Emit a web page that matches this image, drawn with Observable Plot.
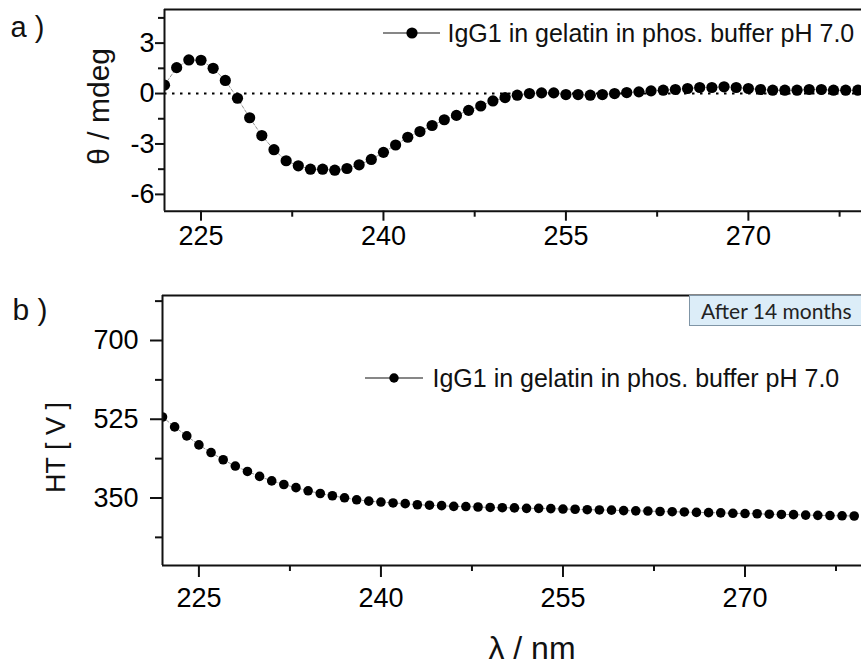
<!DOCTYPE html>
<html><head><meta charset="utf-8">
<script src="https://cdn.jsdelivr.net/npm/d3@7"></script>
<script src="https://cdn.jsdelivr.net/npm/@observablehq/plot@0.6"></script>
<style>
body{margin:0;background:#fff;}
#wrap{position:relative;width:861px;height:666px;overflow:hidden;font-family:"Liberation Sans",Arial,sans-serif;background:#fff;}
#wrap svg{position:absolute;left:0;overflow:visible;}
#wrap g[aria-label="x-axis tick label"], #wrap g[aria-label="y-axis tick label"]{font-size:27px;fill:#000;}
#badge{position:absolute;left:689px;top:295px;width:200px;height:31px;background:#dcedf8;border:1px solid #7f95a6;box-sizing:border-box;font-family:Lato,"Open Sans",sans-serif;font-size:21px;line-height:29px;padding-left:11px;color:#222;white-space:nowrap;}
</style>
</head><body>
<div id="wrap"></div>
<script>
// ---- data ----
const wavelength = [222,223,224,225,226,227,228,229,230,231,232,233,234,235,236,237,238,239,240,241,242,243,244,245,246,247,248,249,250,251,252,253,254,255,256,257,258,259,260,261,262,263,264,265,266,267,268,269,270,271,272,273,274,275,276,277,278,279];
const cdValues = [0.5,1.54,2.0,1.98,1.5,0.78,-0.28,-1.44,-2.5,-3.34,-4.0,-4.3,-4.5,-4.5,-4.56,-4.46,-4.24,-3.92,-3.5,-3.06,-2.6,-2.26,-1.9,-1.56,-1.3,-1.0,-0.74,-0.44,-0.24,-0.1,0,0.04,0.04,-0.06,-0.06,-0.1,-0.06,0,0.06,0.1,0.16,0.2,0.24,0.3,0.36,0.36,0.4,0.36,0.3,0.24,0.2,0.2,0.2,0.24,0.24,0.2,0.2,0.2];
const htValues = [530,508,488,468,451,435,421,409,398,388,380,373,366,360,355,350.5,346,343,341,339,337.5,335,334,333,331.5,331,330,329,328.5,328,327,327,326.5,325.5,325,324,323.5,323,322,321.5,321,320,319.5,319,318,317.5,317,316,315.5,315,314,313.5,313,312,311.5,311,310.5,310];
const xTicks = [225,240,255,270];
const xMinorTicks = [232.5,247.5,262.5,277.5];
const cdTicks = [-6,-3,0,3];
const cdMinorTicks = [-4.5,-1.5,1.5,4.5];
const htTicks = [350,525,700];
const htMinorTicks = [262.5,437.5,612.5,787.5];
const zeroLine = [0];
const cdDomain = [-7,5];
const htDomain = [200,800];
const xDomainA = [222,279.3];
const xDomainB = [222,279.6];
const seriesLabel = "IgG1 in gelatin in phos. buffer pH 7.0";
const panelA = "a )", panelB = "b )";
const cdTitle = "θ / mdeg", htTitle = "HT [ V ]", xTitle = "λ / nm";
const badgeText = "After 14 months";

const cd = wavelength.map((w,i)=>({w, v: cdValues[i]}));
const ht = wavelength.map((w,i)=>({w, v: htValues[i]}));

const font = "'Liberation Sans', Arial, sans-serif";
const style = {fontFamily: font, fontSize: "27px", color: "#000", background: "transparent", overflow: "visible"};
const ink = "#111";
const fmt = d => String(d);

function frameRules(xd, yd) {
  return [
    Plot.ruleY([yd[1]], {stroke: ink, strokeWidth: 2}),
    Plot.ruleY([yd[0]], {stroke: ink, strokeWidth: 2}),
    Plot.ruleX([xd[0]], {stroke: ink, strokeWidth: 2})
  ];
}

// ---- panel a ----
const A = Plot.plot({
  width: 861, height: 262,
  marginTop: 9, marginBottom: 51.3, marginLeft: 164, marginRight: 0,
  style,
  x: {domain: xDomainA},
  y: {domain: cdDomain},
  marks: [
    Plot.ruleY(zeroLine, {stroke: "#000", strokeWidth: 2, strokeDasharray: "2.5,5.5"}),
    Plot.line(cd, {x: "w", y: "v", stroke: "#777", strokeWidth: 0.8, strokeDasharray: "3,2", clip: true}),
    Plot.dot(cd, {x: "w", y: "v", r: 5.6, fill: "#000", stroke: "none", clip: true}),
    ...frameRules(xDomainA, cdDomain),
    Plot.axisX(xTicks, {tickSize: 10, tickPadding: 5, fontSize: 27, tickFormat: fmt, label: null, strokeWidth: 2, stroke: ink, fill: "#000"}),
    Plot.axisX(xMinorTicks, {tickSize: 6, tickFormat: () => "", label: null, strokeWidth: 2, stroke: ink}),
    Plot.axisY(cdTicks, {tickSize: 9, tickPadding: 1, fontSize: 27, tickFormat: fmt, label: null, strokeWidth: 2, stroke: ink, fill: "#000"}),
    Plot.axisY(cdMinorTicks, {tickSize: 6, tickFormat: () => "", label: null, strokeWidth: 2, stroke: ink}),
    Plot.text([panelA], {frameAnchor: "top-left", dx: -154, dy: 18.7, textAnchor: "start", lineAnchor: "middle", fontSize: 29, fill: ink}),
    Plot.text([cdTitle], {frameAnchor: "left", rotate: -90, dx: -65, dy: -4, textAnchor: "middle", lineAnchor: "middle", fontSize: 30, fill: ink}),
    Plot.text([seriesLabel], {frameAnchor: "top-left", dx: 283, dy: 24, textAnchor: "start", lineAnchor: "middle", fontSize: 25, fill: ink})
  ]
});

// ---- panel b ----
const B = Plot.plot({
  width: 861, height: 404,
  marginTop: 33, marginBottom: 101, marginLeft: 162, marginRight: 0,
  style,
  x: {domain: xDomainB},
  y: {domain: htDomain},
  marks: [
    Plot.line(ht, {x: "w", y: "v", stroke: "#777", strokeWidth: 0.8, strokeDasharray: "3,2", clip: true}),
    Plot.dot(ht, {x: "w", y: "v", r: 4.8, fill: "#000", stroke: "none", clip: true}),
    ...frameRules(xDomainB, htDomain),
    Plot.axisX(xTicks, {tickSize: 12, tickPadding: 10, fontSize: 27, tickFormat: fmt, label: null, strokeWidth: 2, stroke: ink, fill: "#000"}),
    Plot.axisX(xMinorTicks, {tickSize: 6, tickFormat: () => "", label: null, strokeWidth: 2, stroke: ink}),
    Plot.axisY(htTicks, {tickSize: 12, tickPadding: 12, fontSize: 27, tickFormat: fmt, label: null, strokeWidth: 2, stroke: ink, fill: "#000"}),
    Plot.axisY(htMinorTicks, {tickSize: 7, tickFormat: () => "", label: null, strokeWidth: 2, stroke: ink}),
    Plot.text([panelB], {frameAnchor: "top-left", dx: -150, dy: 14.4, textAnchor: "start", lineAnchor: "middle", fontSize: 30, fill: ink}),
    Plot.text([htTitle], {frameAnchor: "left", rotate: -90, dx: -106, dy: 17, textAnchor: "middle", lineAnchor: "middle", fontSize: 27, fill: ink}),
    Plot.text([xTitle], {frameAnchor: "bottom", dx: 20, dy: 83, textAnchor: "middle", lineAnchor: "middle", fontSize: 32, fill: ink}),
    Plot.text([seriesLabel], {frameAnchor: "top-left", dx: 270, dy: 83, textAnchor: "start", lineAnchor: "middle", fontSize: 25, fill: ink})
  ]
});

const wrap = document.getElementById("wrap");
A.style.top = "0px";
B.style.top = "262px";
wrap.appendChild(A);
wrap.appendChild(B);

// legend glyphs (line + marker)
function glyph(svg, x1, x2, cx, cy, r) {
  const s = d3.select(svg);
  s.append("line").attr("x1", x1).attr("x2", x2).attr("y1", cy).attr("y2", cy).attr("stroke", ink).attr("stroke-width", 1.2);
  s.append("circle").attr("cx", cx).attr("cy", cy).attr("r", r).attr("fill", "#000");
}
glyph(A, 383, 440, 412, 33, 5.6);
glyph(B, 365, 423, 394, 116, 4.7);

const badge = document.createElement("div");
badge.id = "badge";
badge.textContent = badgeText;
wrap.appendChild(badge);
</script>
</body></html>
